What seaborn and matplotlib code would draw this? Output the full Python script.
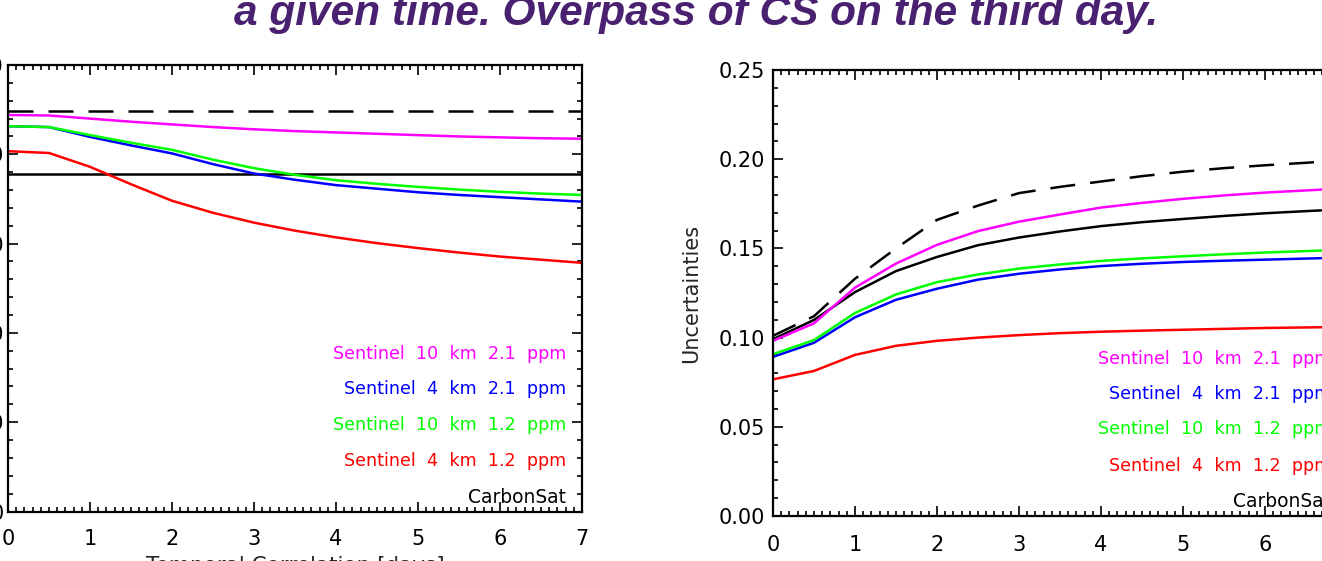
import numpy as np
import pandas as pd
import matplotlib
matplotlib.use("Agg")
import matplotlib.pyplot as plt
from matplotlib.ticker import MultipleLocator, FormatStrFormatter
import seaborn as sns

# --- donnees ---
days = [0, 0.5, 1, 1.5, 2, 2.5, 3, 3.5, 4, 4.5, 5, 5.5, 6, 6.5, 7]

# panneau gauche (axe y coupe, echelle 0-100 supposee)
left_cs_dashed = [89.7] * 15
left_cs_solid = [75.6] * 15
left_s10_21 = [88.8, 88.7, 88.0, 87.3, 86.7, 86.1, 85.6, 85.2, 84.9, 84.6, 84.3, 84.0, 83.8, 83.6, 83.5]
left_s4_21 = [86.3, 86.1, 83.9, 82.0, 80.2, 77.8, 75.7, 74.3, 73.1, 72.3, 71.5, 70.9, 70.4, 69.9, 69.4]
left_s10_12 = [86.3, 86.1, 84.3, 82.6, 81.0, 78.8, 76.9, 75.4, 74.2, 73.4, 72.7, 72.1, 71.6, 71.2, 70.9]
left_s4_12 = [80.7, 80.3, 77.2, 73.3, 69.6, 66.9, 64.7, 62.9, 61.4, 60.1, 59.0, 58.0, 57.1, 56.4, 55.7]

# panneau droit : incertitudes
right_cs_dashed = [0.101, 0.112, 0.133, 0.150, 0.166, 0.174, 0.181, 0.1845, 0.1875, 0.1905, 0.193, 0.195, 0.1966, 0.198, 0.1995]
right_cs_solid = [0.0991, 0.1099, 0.1255, 0.1373, 0.1452, 0.1518, 0.1561, 0.1595, 0.1625, 0.1647, 0.1665, 0.1682, 0.1697, 0.1709, 0.172]
right_s10_21 = [0.0982, 0.108, 0.128, 0.1415, 0.152, 0.1597, 0.165, 0.169, 0.1729, 0.1755, 0.1778, 0.1797, 0.1813, 0.1825, 0.1837]
right_s4_21 = [0.0892, 0.0971, 0.1114, 0.1212, 0.1274, 0.1325, 0.1358, 0.1382, 0.1401, 0.1414, 0.1424, 0.1431, 0.1437, 0.1443, 0.1449]
right_s10_12 = [0.0907, 0.0986, 0.1138, 0.1242, 0.1311, 0.1354, 0.1387, 0.141, 0.143, 0.1444, 0.1456, 0.1467, 0.1477, 0.1485, 0.1493]
right_s4_12 = [0.0766, 0.0813, 0.0903, 0.0954, 0.0982, 0.1000, 0.1014, 0.1025, 0.1033, 0.1039, 0.1044, 0.1049, 0.1054, 0.1057, 0.106]

labels = ["Sentinel 10 km 2.1 ppm", "Sentinel 4 km 2.1 ppm",
          "Sentinel 10 km 1.2 ppm", "Sentinel 4 km 1.2 ppm"]
colors = ["#ff00ff", "#0000ff", "#00ff00", "#ff0000"]
series_names = ["CarbonSat dashed", "CarbonSat"] + labels

title = "a given time. Overpass of CS on the third day."


def make_df(series_list):
    rows = []
    for name, vals in zip(series_names, series_list):
        for d, v in zip(days, vals):
            rows.append({"day": d, "value": v, "series": name})
    return pd.DataFrame(rows)


df_left = make_df([left_cs_dashed, left_cs_solid, left_s10_21, left_s4_21, left_s10_12, left_s4_12])
df_right = make_df([right_cs_dashed, right_cs_solid, right_s10_21, right_s4_21, right_s10_12, right_s4_12])

palette = dict(zip(series_names, ["black", "black"] + colors))
dashes = {n: "" for n in series_names}
dashes["CarbonSat dashed"] = (10, 6)

sns.set_style("ticks")
plt.rcParams["font.family"] = ["DejaVu Sans"]

fig = plt.figure(figsize=(13.22, 5.61), dpi=100)
ax_l = fig.add_axes([0.00605, 0.0882, 0.4342, 0.7959])
ax_r = fig.add_axes([0.5847, 0.0802, 0.4342, 0.795])

for ax, df in [(ax_l, df_left), (ax_r, df_right)]:
    sns.lineplot(data=df, x="day", y="value", hue="series", style="series",
                 palette=palette, dashes=dashes, linewidth=1.8, legend=False, ax=ax)
    ax.set_xlim(0, 7)
    ax.xaxis.set_major_locator(MultipleLocator(1))
    ax.xaxis.set_minor_locator(MultipleLocator(0.1))
    ax.tick_params(which="both", direction="in", top=True, right=True, width=1.2, colors="black")
    ax.tick_params(which="major", length=7.5, labelsize=15, pad=12.5)
    ax.tick_params(which="minor", length=3.6)
    for s in ax.spines.values():
        s.set_linewidth(1.6)
        s.set_color("black")
    ypos = [0.353, 0.274, 0.194, 0.113]
    for lab, col, yy in zip(labels, colors, ypos):
        ax.text(0.972, yy, lab.replace(" ", "  "), transform=ax.transAxes, ha="right",
                va="center", color=col, fontsize=12.6)
    ax.text(0.972, 0.032, "CarbonSat", transform=ax.transAxes, ha="right",
            va="center", color="black", fontsize=13.4)

ax_l.set_xlabel("Temporal Correlation [days]", fontsize=15.5, labelpad=5)
ax_l.set_ylim(0, 100)
ax_l.yaxis.set_major_locator(MultipleLocator(20))
ax_l.yaxis.set_minor_locator(MultipleLocator(4))
ax_l.set_ylabel("")
ax_l.tick_params(axis="y", which="major", pad=3)

ax_r.set_xlabel("Temporal Correlation [days]", fontsize=15.5, labelpad=12)
ax_r.tick_params(axis="x", which="major", pad=14)
ax_r.set_ylim(0, 0.25)
ax_r.yaxis.set_major_locator(MultipleLocator(0.05))
ax_r.yaxis.set_minor_locator(MultipleLocator(0.01))
ax_r.yaxis.set_major_formatter(FormatStrFormatter("%.2f"))
ax_r.tick_params(axis="y", which="major", pad=6)
ax_r.set_ylabel("Uncertainties", fontsize=15, labelpad=12)

fig.text(0.5269, 1 - 25 / 561, title, ha="center", va="baseline", fontsize=30.5,
         fontweight="bold", fontstyle="italic", color="#4a2170",
         family=["Liberation Sans"])

fig.savefig("out.png", dpi=100)
